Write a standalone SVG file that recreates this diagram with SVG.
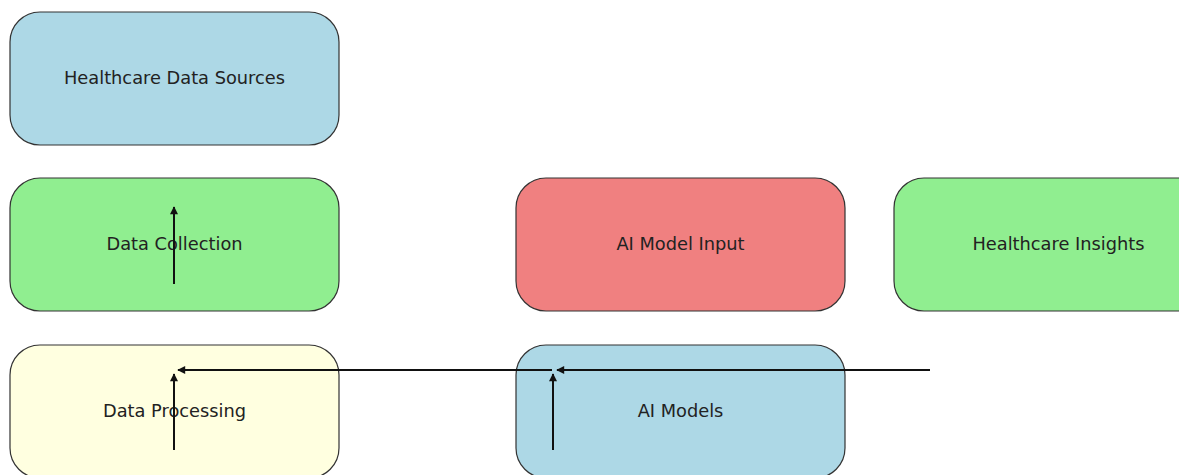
<svg xmlns="http://www.w3.org/2000/svg" width="1179" height="475" viewBox="0 0 1179 475">
  <style>
    .box { stroke: #333; stroke-width: 1.2; }
    .label { font-family: "DejaVu Sans", sans-serif; font-size: 17.8px; fill: #222; text-anchor: middle; dominant-baseline: central; }
    .edge { stroke: #111; stroke-width: 2; fill: none; marker-end: url(#arrow); }
  </style>
  <defs>
    <marker id="arrow" viewBox="0 0 10 10" refX="9" refY="5" markerWidth="4.5" markerHeight="4" orient="auto" markerUnits="strokeWidth">
      <path d="M0,0 L10,5 L0,10 z" fill="#111"/>
    </marker>
  </defs>
  <rect width="1179" height="475" fill="#fff"/>

  <g id="node-sources">
    <rect class="box" x="10" y="12" width="329" height="133" rx="30" fill="#ADD8E6"/>
    <text class="label" x="174.5" y="77">Healthcare Data Sources</text>
  </g>
  <g id="node-collection">
    <rect class="box" x="10" y="178" width="329" height="133" rx="30" fill="#90EE90"/>
    <text class="label" x="174.5" y="243">Data Collection</text>
  </g>
  <g id="node-processing">
    <rect class="box" x="10" y="345" width="329" height="133" rx="30" fill="#FFFFE0"/>
    <text class="label" x="174.5" y="410">Data Processing</text>
  </g>
  <g id="node-model-input">
    <rect class="box" x="516" y="178" width="329" height="133" rx="30" fill="#F08080"/>
    <text class="label" x="680.5" y="243">AI Model Input</text>
  </g>
  <g id="node-models">
    <rect class="box" x="516" y="345" width="329" height="133" rx="30" fill="#ADD8E6"/>
    <text class="label" x="680.5" y="410">AI Models</text>
  </g>
  <g id="node-insights">
    <rect class="box" x="894" y="178" width="329" height="133" rx="30" fill="#90EE90"/>
    <text class="label" x="1058.5" y="243">Healthcare Insights</text>
  </g>

  <g id="connectors">
    <line class="edge" x1="174" y1="284" x2="174" y2="207"/>
    <line class="edge" x1="174" y1="450" x2="174" y2="374"/>
    <line class="edge" x1="552" y1="370" x2="178" y2="370"/>
    <line class="edge" x1="553" y1="450" x2="553" y2="374"/>
    <line class="edge" x1="930" y1="370" x2="557" y2="370"/>
  </g>
</svg>
